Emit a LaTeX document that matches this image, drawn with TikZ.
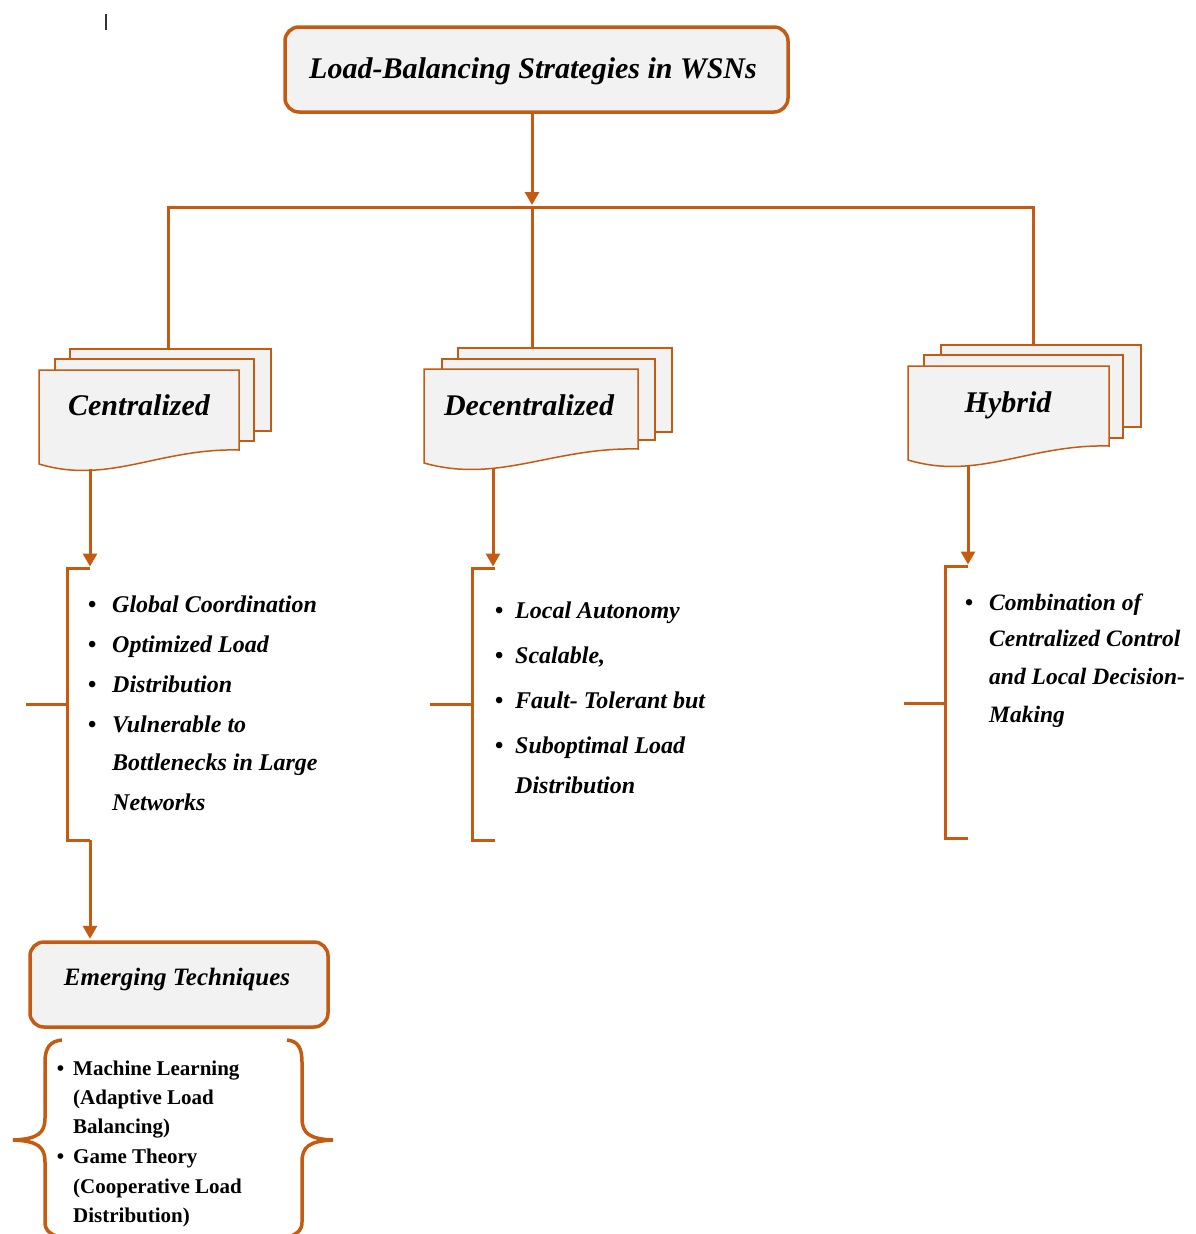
\documentclass[tikz,border=0pt]{standalone}
\usepackage{fontspec}
\setmainfont{Liberation Serif}[
  UprightFont={Liberation Serif},
  BoldFont={Liberation Serif Bold},
  ItalicFont={Liberation Serif Italic},
  BoldItalicFont={Liberation Serif Bold Italic}]
\usetikzlibrary{arrows.meta}
\definecolor{org}{RGB}{197,90,17}
\definecolor{lg}{RGB}{242,242,242}
\newcommand\docsheet[3]{%
  \path[sheet] (#1,#3) -- (#2,#3) -- (#2,{#3+80})
    .. controls ({#1+0.6*(#2-#1)},{#3+78}) and ({#1+0.35*(#2-#1)},{#3+115}) .. (#1,{#3+94}) -- cycle;}
\begin{document}
\begin{tikzpicture}[x=1pt,y=-1pt,
  conn/.style={draw=org,line width=3pt},
  arr/.style={conn,-{Triangle[width=14pt,length=13pt]}},
  sheet/.style={draw=org,fill=lg,line width=1.5pt},
  hdr/.style={draw=org,fill=lg,line width=3.5pt,rounded corners=14pt},
  ttl/.style={font=\fontsize{30}{36}\selectfont\bfseries\itshape,inner sep=0pt,anchor=base},
  emt/.style={font=\fontsize{25}{30}\selectfont\bfseries\itshape,inner sep=0pt,anchor=base},
  itm/.style={font=\fontsize{24}{28}\selectfont\bfseries\itshape,inner sep=0pt,anchor=base west},
  hitm/.style={font=\fontsize{23.5}{28}\selectfont\bfseries\itshape,inner sep=0pt,anchor=base west},
  sitm/.style={font=\fontsize{21}{24}\selectfont\bfseries,inner sep=0pt,anchor=base west}
]
\useasboundingbox (0,0) rectangle (1195,1234);
\fill[white] (0,0) rectangle (1195,1234);
% small tick mark
\draw[black!80,line width=1.8pt] (106,14) coordinate (tk1) -- (106,30) coordinate (tk2);

% title
\node[hdr,minimum width=503pt,minimum height=85pt] (title) at (536.5,69.5) {};
\node[ttl] (titletxt) at (533,78) {Load-Balancing Strategies in WSNs};

% bus coordinates
\coordinate (busC) at (532,207);
\coordinate (busTip) at (532,205);
\coordinate (cenIn) at (168,349);
\coordinate (decIn) at (532,348);
\coordinate (hybIn) at (1033,345);
\draw[arr] (title.south -| busC) -- (busTip);
\draw[conn,line join=miter] (cenIn) -- (cenIn |- busC) -- (hybIn |- busC) -- (hybIn);
\draw[conn] (busC) -- (decIn);

% stacked documents
\path[sheet] (70,349) rectangle (271,431);
\path[sheet] (55,359) rectangle (254,441);
\docsheet{39}{239}{370}
\path[sheet] (458,348) rectangle (672,432);
\path[sheet] (442,359) rectangle (655,440);
\docsheet{424}{638}{369}
\path[sheet] (941,345) rectangle (1141,427);
\path[sheet] (924,355) rectangle (1123,438);
\docsheet{908}{1109}{366}
\node[ttl] (cen) at (139,415) {Centralized};
\node[ttl] (dec) at (529,415) {Decentralized};
\node[ttl] (hyb) at (1008,412) {Hybrid};

% outputs of documents and brackets
\coordinate (cenOut) at (90,469);
\coordinate (decOut) at (493,468);
\coordinate (hybOut) at (968,465);
\coordinate (cbT) at (90,568);
\coordinate (cbB) at (90,840);
\coordinate (dbT) at (495,568);
\coordinate (dbB) at (495,840);
\coordinate (hbT) at (968,566);
\coordinate (hbB) at (968,838);

\draw[arr] (cenOut) -- ([yshift=1.5pt]cbT);
\draw[conn,line join=miter] (cbT) -- (67,568) -- (67,840) -- (cbB);
\draw[conn] (26,704) coordinate (ctk) -- (67,704);
\draw[arr] (decOut) -- ([yshift=1.5pt]decOut |- dbT);
\draw[conn,line join=miter] (dbT) -- (472,568) -- (472,840) -- (dbB);
\draw[conn] (430,704) coordinate (dtk) -- (472,704);
\draw[arr] (hybOut) -- ([yshift=1.5pt]hbT);
\draw[conn,line join=miter] (hbT) -- (945,566) -- (945,838) -- (hbB);
\draw[conn] (904,703) coordinate (htk) -- (945,703);

% centralized items
\node[itm] (c1) at (112,612) {\llap{\textbullet\hspace{16pt}}Global Coordination};
\node[itm] (c2) at (112,652) {\llap{\textbullet\hspace{16pt}}Optimized Load};
\node[itm] (c3) at (112,692) {\llap{\textbullet\hspace{16pt}}Distribution};
\node[itm] (c4) at (112,732) {\llap{\textbullet\hspace{16pt}}Vulnerable to};
\node[itm] (c5) at (112,770) {Bottlenecks in Large};
\node[itm] (c6) at (112,810) {Networks};

% decentralized items
\node[itm] (d1) at (515,618) {\llap{\textbullet\hspace{12pt}}Local Autonomy};
\node[itm] (d2) at (515,663) {\llap{\textbullet\hspace{12pt}}Scalable,};
\node[itm] (d3) at (515,708) {\llap{\textbullet\hspace{12pt}}Fault- Tolerant but};
\node[itm] (d4) at (515,753) {\llap{\textbullet\hspace{12pt}}Suboptimal Load};
\node[itm] (d5) at (515,793) {Distribution};

% hybrid items
\node[hitm] (h1) at (989,610) {\llap{\textbullet\hspace{16pt}}Combination of};
\node[hitm] (h2) at (989,646) {Centralized Control};
\node[hitm] (h3) at (989,684) {and Local Decision-};
\node[hitm] (h4) at (989,722) {Making};

% emerging techniques
\node[hdr,minimum width=298pt,minimum height=85pt] (emg) at (179,984.5) {};
\node[emt] (emgtxt) at (177,985) {Emerging Techniques};
\draw[arr] (cbB) -- ([yshift=1.5pt]emg.north -| cbB);

% braces
\draw[conn,line width=3.5pt] (62,1040) .. controls (50,1041) and (45,1048) .. (45,1062) -- (45,1118)
  .. controls (45,1133) and (38,1139) .. (13,1140) coordinate (lbtip)
  .. controls (38,1141) and (45,1147) .. (45,1162) -- (45,1222) .. controls (45,1230) and (49,1233) .. (56,1236);
\draw[conn,line width=3.5pt] (287,1040) .. controls (298,1041) and (302,1048) .. (302,1062) -- (302,1118)
  .. controls (302,1133) and (309,1139) .. (333,1140) coordinate (rbtip)
  .. controls (309,1141) and (302,1147) .. (302,1162) -- (302,1222) .. controls (302,1230) and (298,1233) .. (291,1236);

\node[sitm] (e1) at (73,1075) {\llap{\textbullet\hspace{9pt}}Machine Learning};
\node[sitm] (e2) at (73,1104) {(Adaptive Load};
\node[sitm] (e3) at (73,1133) {Balancing)};
\node[sitm] (e4) at (73,1163) {\llap{\textbullet\hspace{9pt}}Game Theory};
\node[sitm] (e5) at (73,1193) {(Cooperative Load};
\node[sitm] (e6) at (73,1222) {Distribution)};
\end{tikzpicture}
\end{document}
